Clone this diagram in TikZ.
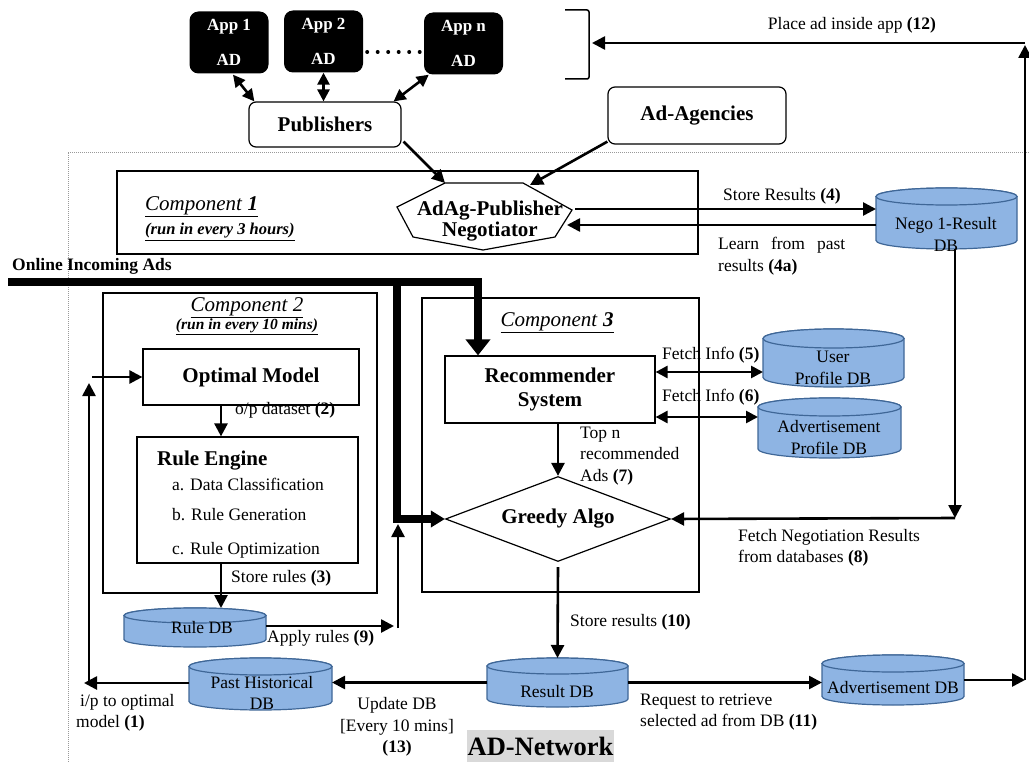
\documentclass[tikz,border=0pt]{standalone}
\usepackage{fontspec}
\setmainfont{Liberation Serif}
\usetikzlibrary{arrows.meta,fit,calc,shapes.geometric}
\definecolor{dbfill}{HTML}{8EB4E3}
\definecolor{dbline}{HTML}{3F6797}
\definecolor{netgray}{HTML}{D9D9D9}
\tikzset{
  lbl/.style={font=\fontsize{17.5}{21.5}\selectfont, inner sep=0pt, align=left},
  ttl/.style={font=\fontsize{21}{24}\selectfont\bfseries, inner sep=0pt, align=center},
  rbox/.style={draw, line width=1.2pt, inner sep=0pt},
  appbox/.style={fill=black, rounded corners=9pt, text=white, align=center, inner sep=0pt,
    font=\fontsize{17}{20}\selectfont\bfseries, minimum width=79pt, minimum height=62pt},
  conn/.style={line width=2.6pt, -{Triangle[length=13pt,width=13pt]}},
  dconn/.style={line width=2.6pt, {Triangle[length=12pt,width=12pt]}-{Triangle[length=12pt,width=12pt]}},
  thickline/.style={line width=8pt, line join=miter, -{Triangle[length=16pt,width=24pt]}},
  db/.style={fill=dbfill, draw=dbline, line width=1.2pt},
}
\newcommand{\dbcyl}[6]{% name, cx, ytop, ybottom, rx, ry
  \filldraw[db] ({#2-#5},{#3+#6}) -- ({#2-#5},{#4-#6})
     arc[start angle=180,end angle=360,x radius=#5pt,y radius=#6pt]
     -- ({#2+#5},{#3+#6})
     arc[start angle=0,end angle=180,x radius=#5pt,y radius=#6pt] -- cycle;
  \draw[db] (#2,{#3+#6}) ellipse[x radius=#5pt, y radius=#6pt];
  \node[fit={({#2-#5},#3) ({#2+#5},#4)}, inner sep=0pt, outer sep=0pt] (#1) {};
}
\begin{document}
\begin{tikzpicture}[x=1pt,y=-1pt]
\useasboundingbox (0,0) rectangle (1029,762);

% AD-Network dotted border
\draw[gray!80, line width=0.8pt, dash pattern=on 1pt off 1pt] (68,762) -- (68,152) -- (1029,152);

% apps
\node[appbox] (app1) at (229,42.5) {App 1\\[15pt]AD};
\node[appbox] (app2) at (323.5,41.5) {App 2\\[15pt]AD};
\node[appbox] (appn) at (463.5,43.5) {App n\\[15pt]AD};
\draw[line width=4pt, line cap=round, dash pattern=on 0pt off 10.5pt]
  ($(app2.east)+(4,10.5)$) -- ($(appn.west)+(-2,8.5)$);

% bracket
\draw[line width=1.5pt, rounded corners=2pt] (565,10) -- (589,10) -- (589,79) -- (565,79);
\coordinate (brk) at (592,43);
\coordinate (rx) at (1025,43);

% publishers / agencies
\node[rbox, rounded corners=7pt, minimum width=152pt, minimum height=45pt, ttl] (pub) at (325,124.5) {Publishers};
\node[rbox, rounded corners=7pt, minimum width=178pt, minimum height=57pt, ttl] (agc) at (697,115.5) {Ad-Agencies};

\draw[dconn] ($(app1.south)+(4,1)$) -- ($(pub.north west)+(6,0)$);
\draw[dconn] (app2.south) -- (app2.south |- pub.north);
\draw[dconn] ($(appn.south west)+(5,0)$) -- ($(pub.north east)+(-8,0)$);

% component 1
\node[rbox, fit={(117,171) (698,254)}] (c1) {};
\node[anchor=west, inner sep=0pt, font=\fontsize{21}{24}\selectfont] (c1t) at (145,207)
  {\underline{\textit{Component }\textbf{\textit{1}}}};
\node[anchor=west, inner sep=0pt, font=\fontsize{16.5}{20}\selectfont\bfseries\itshape] (c1s) at (145,232)
  {\underline{(run in every 3 hours)}};

% negotiator polygon
\coordinate (ng1) at (445,183);
\coordinate (ng2) at (523,183);
\coordinate (ng3) at (572,210);
\coordinate (ng4) at (555,237);
\coordinate (ng5) at (483,250);
\coordinate (ng6) at (413,237);
\coordinate (ng7) at (397,207);
\filldraw[fill=white, draw=black, line width=1.2pt] (ng1) -- (ng2) -- (ng3) -- (ng4) -- (ng5) -- (ng6) -- (ng7) -- cycle;
\node[ttl, font=\fontsize{21}{21}\selectfont\bfseries] (nego) at (490,221) {AdAg-Publisher\\Negotiator};
\coordinate (ngtr) at (530,185);
\coordinate (ngE1) at (575,209);
\coordinate (ngE2) at (567,225);

\draw[conn] ($(pub.south east)+(2,-6)$) -- (ng1);
\draw[conn] ($(agc.south west)+(0,-3)$) -- (ngtr);

% Nego DB
\dbcyl{negodb}{946.5}{188}{249}{70.5}{8.5}
\node[lbl] (negot1) at (946,225) {Nego 1-Result};
\node[lbl] (negot2) at (946,246) {DB};

\draw[conn] (ngE1) -- (ngE1 -| negodb.west);
\draw[conn] (ngE2 -| negodb.west) -- (ngE2);
\node[lbl] (l4) at (782,196) {Store Results \textbf{(4)}};
\node[lbl, anchor=west] (l4a) at (718,256) {\makebox[127pt][s]{Learn from past}\\results \textbf{(4a)}};

% Online incoming ads
\node[anchor=west, inner sep=0pt, font=\fontsize{17.5}{21}\selectfont\bfseries] (oia) at (12,266) {Online Incoming Ads};
\coordinate (oin) at (8,282);
\coordinate (tk) at (478,282);
\coordinate (tb) at (397,282);

% component 2
\node[rbox, fit={(103,293) (377,593)}] (c2) {};
\node[inner sep=0pt, font=\fontsize{21}{24}\selectfont] (c2t) at (247,308) {\underline{\textit{Component 2}}};
\node[inner sep=0pt, font=\fontsize{15.5}{18}\selectfont\bfseries\itshape] (c2s) at (247,327) {\underline{(run in every 10 mins)}};
\node[rbox, minimum width=216pt, minimum height=56pt, ttl] (optm) at (251,377) {Optimal Model};
\node[rbox, minimum width=221pt, minimum height=126pt] (re) at (247.5,500) {};
\node[ttl, anchor=west] (ret) at (157,461) {Rule Engine};
\node[lbl, anchor=west] (rea) at (172,484) {a. Data Classification};
\node[lbl, anchor=west] (reb) at (172,515) {b. Rule Generation};
\node[lbl, anchor=west] (rec) at (172,550) {c. Rule Optimization};
\coordinate (colx) at (221,0);
\draw[conn] (optm.south -| colx) -- (re.north -| colx);
\node[lbl, anchor=west] (l2) at (235,410) {o/p dataset \textbf{(2)}};

% Rule DB
\dbcyl{ruledb}{195}{608}{647}{71}{7.5}
\node[lbl] (ruledbt) at (202,628) {Rule DB};
\draw[conn] (re.south -| colx) -- (ruledb.north -| colx);
\node[lbl, anchor=west] (l3) at (231,578) {Store rules \textbf{(3)}};

% component 3
\node[rbox, fit={(422,298) (699,592)}] (c3) {};
\node[inner sep=0pt, font=\fontsize{21}{24}\selectfont] (c3t) at (557,323) {\underline{\textit{Component }\textbf{\textit{3}}}};
\node[rbox, minimum width=210pt, minimum height=67pt, ttl] (recs) at (550,389.5) {Recommender\\System};
\node[draw, line width=1.2pt, diamond, shape aspect=2.65, minimum width=225pt, minimum height=85pt,
  inner sep=2pt, font=\fontsize{21}{24}\selectfont\bfseries] (greedy) at (558,519) {Greedy Algo};

% thick incoming lines
\draw[thickline] (oin) -- (tk) -- (tk |- recs.north);
\draw[thickline, -{Triangle[length=14pt,width=16pt]}] (tb) -- (tb |- greedy.west) -- (greedy.west);

% user / adv profile DB
\dbcyl{userdb}{833.5}{329}{387}{70.5}{9.5}
\node[lbl] (usert1) at (833,357) {User};
\node[lbl] (usert2) at (833,378) {Profile DB};
\dbcyl{advpdb}{829.5}{398}{458}{71.5}{9}
\node[lbl] (advpt1) at (829,427) {Advertisement};
\node[lbl] (advpt2) at (829,448) {Profile DB};
\coordinate (f5) at (0,372);
\coordinate (f6) at (0,417);
\draw[dconn] (recs.east |- f5) -- (userdb.west |- f5);
\draw[dconn] (recs.east |- f6) -- (advpdb.west |- f6);
\node[lbl, anchor=west] (l5) at (662,355) {Fetch Info \textbf{(5)}};
\node[lbl, anchor=west] (l6) at (662,397) {Fetch Info \textbf{(6)}};

\draw[conn] (recs.south -| greedy.north) -- (greedy.north);
\node[lbl, anchor=west] (l7) at (580,456) {Top n\\recommended\\Ads \textbf{(7)}};

% negotiation results
\coordinate (fnr) at (955,518);
\draw[conn] (fnr |- negodb.south) -- (fnr);
\draw[conn] (fnr) -- (greedy.east);
\node[lbl, anchor=west] (l8) at (738,548) {Fetch Negotiation Results\\from databases \textbf{(8)}};

% apply rules
\coordinate (ap) at (394,626);
\coordinate (apv) at (398,628);
\draw[conn] (ap -| ruledb.east) -- (ap);
\draw[conn] (apv) -- ($(apv |- greedy.west)+(0,5)$);
\node[lbl, anchor=west] (l9) at (267,638) {Apply rules \textbf{(9)}};

% result DB
\dbcyl{resdb}{557.5}{658}{707}{70.5}{8}
\node[lbl] (resdbt) at (557,692) {Result DB};
\draw[conn] ($(greedy.south)+(0,5)$) -- (resdb.north);
\node[lbl, anchor=west] (l10) at (570,622) {Store results \textbf{(10)}};

% past historical DB
\dbcyl{past}{260.5}{658}{710}{71.5}{8.5}
\node[lbl] (pastt1) at (262,683) {Past Historical};
\node[lbl] (pastt2) at (262,704) {DB};
\draw[conn] (resdb.west) -- (resdb.west -| past.east);
\node[lbl, align=center] (l13) at (397,727) {Update DB\\{[Every 10 mins]}\\\textbf{(13)}};

% i/p loop
\coordinate (ipc) at (89,683);
\coordinate (ipt) at (89,383);
\coordinate (ipt2) at (92,377);
\draw[conn] (past.west |- ipc) -- ($(ipc)+(-5,0)$);
\draw[conn] (ipc) -- (ipt);
\draw[conn] (ipt2) -- (optm.west);
\node[lbl, anchor=west] (l1) at (76,713) {\hspace*{4pt}i/p to optimal\\model \textbf{(1)}};

% advertisement DB
\dbcyl{advdb}{893}{655}{705}{71}{8.5}
\node[lbl] (advdbt) at (893,688) {Advertisement DB};
\draw[conn] (resdb.east) -- (resdb.east -| advdb.west);
\node[lbl, anchor=west] (l11) at (640,712) {Request to retrieve\\selected ad from DB \textbf{(11)}};

% right side loop to apps
\draw[conn] (advdb.east) -- (advdb.east -| rx);
\draw[conn] (advdb.east -| rx) -- ($(rx)+(0,2)$);
\draw[conn] (rx) -- (brk);
\node[lbl] (l12) at (852,25) {Place ad inside app \textbf{(12)}};

% AD-Network label
\node[fill=netgray, minimum width=147pt, minimum height=32pt, inner sep=0pt,
  font=\fontsize{26.5}{28}\selectfont\bfseries] (adn) at (540.5,746) {AD-Network};
\end{tikzpicture}
\end{document}
